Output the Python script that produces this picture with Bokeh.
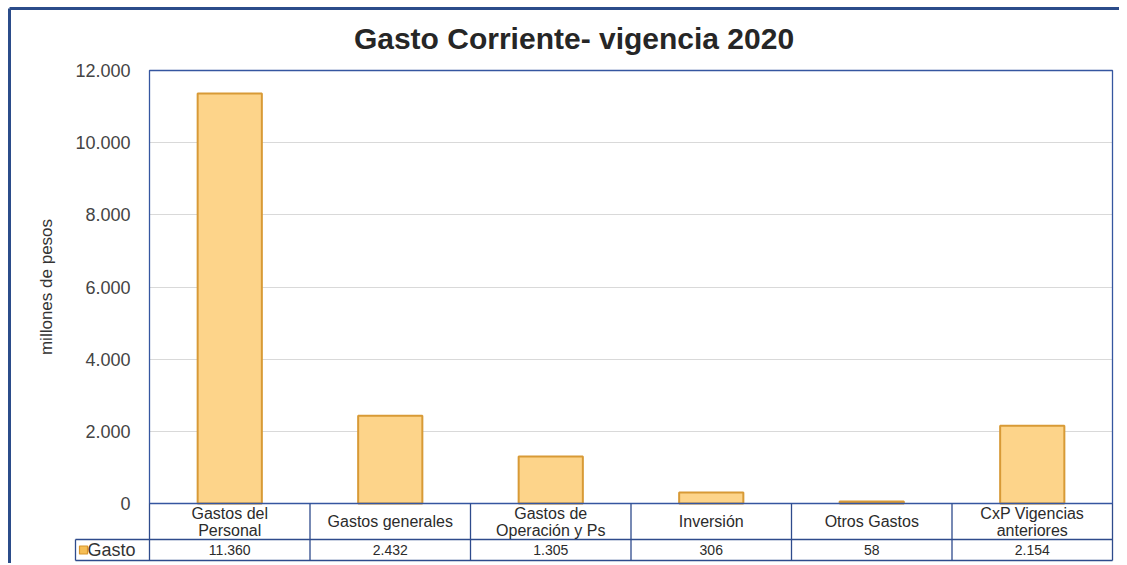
import math
from bokeh.plotting import figure
from bokeh.models import (Range1d, LinearAxis, FixedTicker, Grid,
                          CustomJSTickFormatter, ColumnDataSource)
from bokeh.core.properties import value
from bokeh.embed import file_html
from bokeh.resources import INLINE

# ---------------- data ----------------
categories = ["Gastos del\nPersonal", "Gastos generales", "Gastos de\nOperación y Ps",
              "Inversión", "Otros Gastos", "CxP Vigencias\nanteriores"]
gasto = [11360, 2432, 1305, 306, 58, 2154]
gasto_labels = ["11.360", "2.432", "1.305", "306", "58", "2.154"]
series_name = "Gasto"
y_ticks = [0, 2000, 4000, 6000, 8000, 10000, 12000]
title_text = "Gasto Corriente- vigencia 2020"
y_label = "millones de pesos"

# ---------------- layout (page pixels) ----------------
ORIGIN_X, ORIGIN_Y = 0, 0          # canvas origin on the page
CANVAS_W, CANVAS_H = 1119, 563
PA_LEFT, PA_RIGHT = 149, 1112      # plot area
PA_TOP, PA_BOTTOM = 70, 503
LEG_LEFT = 75
ROW1_BOTTOM, ROW2_BOTTOM = 539, 560
CHART_LEFT, CHART_TOP = 9, 8       # outer chart border

n = len(categories)
ymax = y_ticks[-1]
cat_px = (PA_RIGHT - PA_LEFT) / n
ky = ymax / (PA_BOTTOM - PA_TOP)


def dx(px):   # page x -> data x
    return (px - PA_LEFT) / cat_px


def dy(py):   # page y -> data y
    return (PA_BOTTOM - py) * ky


x_lo, x_hi = dx(ORIGIN_X), dx(ORIGIN_X + CANVAS_W)
y_lo, y_hi = dy(ORIGIN_Y + CANVAS_H), dy(ORIGIN_Y)

p = figure(width=CANVAS_W, height=CANVAS_H,
           x_range=Range1d(x_lo, x_hi), y_range=Range1d(y_lo, y_hi),
           x_axis_location=None, y_axis_location=None,
           toolbar_location=None, output_backend="svg",
           min_border=0, min_border_left=0, min_border_right=0,
           min_border_top=0, min_border_bottom=0,
           background_fill_color="white", border_fill_color="white")
p.outline_line_color = None
p.xgrid.visible = False
p.ygrid.visible = False

FONT = value("Liberation Sans")
LINE_BLUE = "#3556A0"
TABLE_BLUE = "#2E4B8C"
FRAME_BLUE = "#2B4C8A"

# outer chart border (left and top edges visible)
p.segment(x0=[dx(CHART_LEFT), dx(CHART_LEFT)], x1=[dx(CHART_LEFT), x_hi],
          y0=[y_lo, dy(CHART_TOP)], y1=[dy(CHART_TOP), dy(CHART_TOP)],
          line_color=FRAME_BLUE, line_width=3)

# grid
grid = Grid(dimension=1, ticker=FixedTicker(ticks=y_ticks[1:-1]),
            grid_line_color="#D9D9D9", grid_line_width=1)
has_cross = "cross_bounds" in Grid.properties()
if has_cross:
    grid.cross_bounds = (0, n)
p.add_layout(grid)
if not has_cross:
    p.quad(left=[x_lo], right=[0], bottom=[0], top=[ymax],
           fill_color="white", line_color=None, level="underlay")
    p.quad(left=[n], right=[x_hi], bottom=[0], top=[ymax],
           fill_color="white", line_color=None, level="underlay")

# y axis, fixed just left of the plot area
yaxis = LinearAxis(ticker=FixedTicker(ticks=y_ticks),
                   formatter=CustomJSTickFormatter(code=r"""
                       return tick.toFixed(0).replace(/\B(?=(\d{3})+(?!\d))/g, ".");
                   """),
                   fixed_location=dx(PA_LEFT - 17))
yaxis.axis_line_color = None
yaxis.major_tick_line_color = None
yaxis.minor_tick_line_color = None
yaxis.major_tick_out = 0
yaxis.major_tick_in = 0
yaxis.major_label_standoff = 2
yaxis.major_label_text_font = "Liberation Sans"
yaxis.major_label_text_font_size = "18px"
yaxis.major_label_text_color = "#444444"
p.add_layout(yaxis, "left")

# bars
xs = [i + 0.5 for i in range(n)]
src = ColumnDataSource(dict(x=xs, top=gasto, cat=categories, lab=gasto_labels))
p.vbar(x="x", top="top", bottom=0, width=0.4, source=src,
       fill_color="#FDD48A", line_color="#D89A36", line_width=2)

# plot area border
p.quad(left=[0], right=[n], bottom=[0], top=[ymax], fill_color=None,
       line_color=LINE_BLUE, line_width=1.3)

# data table lines
y_row1 = dy(ROW1_BOTTOM)
y_row2 = dy(ROW2_BOTTOM)
leg_left = dx(LEG_LEFT)
p.segment(x0=[leg_left, leg_left], x1=[n, n], y0=[y_row1, y_row2], y1=[y_row1, y_row2],
          line_color=TABLE_BLUE, line_width=1.3)
vx = list(range(n + 1))
p.segment(x0=vx, x1=vx, y0=[y_row2] * len(vx), y1=[0] * len(vx),
          line_color=TABLE_BLUE, line_width=1.3)
p.segment(x0=[leg_left], x1=[leg_left], y0=[y_row2], y1=[y_row1],
          line_color=TABLE_BLUE, line_width=1.3)

# table text
p.text(x="x", y=y_row1 / 2, text="cat", source=src, text_align="center",
       text_baseline="middle", text_font=FONT, text_font_size="16px",
       text_color="#2B2B2B", text_line_height=1.0)
p.text(x="x", y=(y_row1 + y_row2) / 2, text="lab", source=src, text_align="center",
       text_baseline="middle", text_font=FONT, text_font_size="14px",
       text_color="#2B2B2B")

# legend cell
p.scatter(x=[dx(LEG_LEFT + 8)], y=[(y_row1 + y_row2) / 2], marker="square", size=8,
          fill_color="#F6BE55", line_color="#D8952C", line_width=1.2)
p.text(x=[dx(LEG_LEFT + 12)], y=[(y_row1 + y_row2) / 2], text=[series_name],
       text_align="left", text_baseline="middle", text_font=FONT,
       text_font_size="18px", text_color="#333333")

# y axis title
p.text(x=[dx(46)], y=[ymax / 2], text=[y_label], angle=math.pi / 2,
       text_align="center", text_baseline="middle", text_font=FONT,
       text_font_size="17px", text_color="#333333")

# chart title
p.text(x=[dx(573.5)], y=[dy(37.5)], text=[title_text], text_align="center",
       text_baseline="middle", text_font=FONT, text_font_style="bold",
       text_font_size="30px", text_color="#262626")

open("out.html", "w").write(file_html(p, INLINE))
